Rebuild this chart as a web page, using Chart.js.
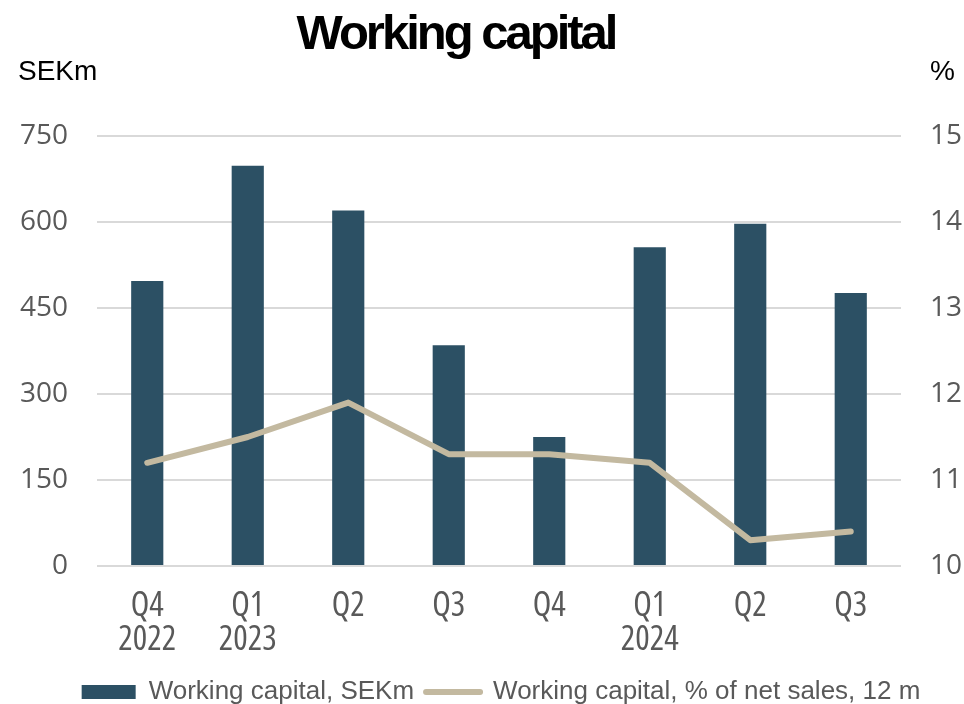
<!DOCTYPE html>
<html>
<head>
<meta charset="utf-8">
<title>Working capital</title>
<script src="https://cdn.jsdelivr.net/npm/chart.js@4.4.1/dist/chart.umd.min.js"></script>
<style>
  html, body { margin: 0; padding: 0; background: #fff; }
  #wrap { width: 964px; height: 704px; }
</style>
</head>
<body>
<div id="wrap"><canvas id="wcChart" width="964" height="704"></canvas></div>
<script>
const quarters = [['Q4', '2022'], ['Q1', '2023'], 'Q2', 'Q3', 'Q4', ['Q1', '2024'], 'Q2', 'Q3'];
const workingCapital = [497, 698, 620, 385, 225, 556, 597, 476];
const wcPctOfSales = [11.2, 11.5, 11.9, 11.3, 11.3, 11.2, 10.3, 10.4];
const sekTicks = [0, 150, 300, 450, 600, 750];
const pctTicks = [10, 11, 12, 13, 14, 15];

const BAR_COLOR = '#2c5064';
const LINE_COLOR = '#c3b9a0';
const TEXT_GREY = '#595959';
const LEGEND_SHIFT = { x: 19, y: 11 };

// title and the two unit labels above the axes
const headerText = {
  id: 'headerText',
  afterDraw(chart) {
    const { ctx } = chart;
    ctx.save();
    ctx.fillStyle = '#000';
    ctx.textBaseline = 'alphabetic';
    ctx.font = 'bold 49px "Liberation Sans"';
    ctx.letterSpacing = '-3px';
    ctx.textAlign = 'center';
    ctx.fillText('Working capital', 456, 49);
    ctx.letterSpacing = '0px';
    ctx.font = '28px "Liberation Sans"';
    ctx.textAlign = 'left';
    ctx.fillText('SEKm', 18, 80);
    ctx.textAlign = 'right';
    ctx.fillText('%', 955, 80);
    ctx.restore();
  }
};

// nudge the legend box a bit lower and to the right
const legendNudge = {
  id: 'legendNudge',
  afterLayout(chart) {
    const lg = chart.legend;
    if (!lg) return;
    lg.left += LEGEND_SHIFT.x;
    lg.right += LEGEND_SHIFT.x;
    lg.top += LEGEND_SHIFT.y;
    lg.bottom += LEGEND_SHIFT.y;
  }
};

const ctx = document.getElementById('wcChart').getContext('2d');

new Chart(ctx, {
  type: 'bar',
  data: {
    labels: quarters,
    datasets: [{
      label: 'Working capital, SEKm',
      data: workingCapital,
      backgroundColor: BAR_COLOR,
      borderWidth: 0,
      barPercentage: 0.32,
      categoryPercentage: 1,
      pointStyle: 'rect',
      yAxisID: 'ySek',
      order: 2
    }, {
      type: 'line',
      label: 'Working capital, % of net sales, 12 m',
      data: wcPctOfSales,
      borderColor: LINE_COLOR,
      backgroundColor: LINE_COLOR,
      borderWidth: 6,
      borderCapStyle: 'round',
      borderJoinStyle: 'round',
      pointRadius: 0,
      pointStyle: 'line',
      tension: 0,
      yAxisID: 'yPct',
      order: 1
    }]
  },
  options: {
    responsive: false,
    animation: false,
    events: [],
    layout: { padding: { top: 136, left: 0, right: 0, bottom: 0 } },
    scales: {
      x: {
        grid: { display: false },
        border: { display: false },
        ticks: {
          color: TEXT_GREY,
          font: { family: '"Open Sans"', size: 34, weight: 'normal semi-condensed', lineHeight: 1.0 },
          padding: 15,
          maxRotation: 0
        },
        afterFit: s => { s.height = 90; }
      },
      ySek: {
        position: 'left',
        min: 0,
        max: 750,
        afterBuildTicks: s => { s.ticks = sekTicks.map(v => ({ value: v })); },
        grid: { color: '#d9d9d9', lineWidth: 2, drawTicks: false },
        border: { display: false },
        ticks: {
          color: TEXT_GREY,
          font: { family: '"Open Sans"', size: 28 },
          padding: 29
        },
        afterFit: s => { s.width = 97; }
      },
      yPct: {
        position: 'right',
        min: 10,
        max: 15,
        afterBuildTicks: s => { s.ticks = pctTicks.map(v => ({ value: v })); },
        grid: { display: false, drawTicks: false },
        border: { display: false },
        ticks: {
          color: TEXT_GREY,
          font: { family: '"Open Sans"', size: 28 },
          padding: 29
        },
        afterFit: s => { s.width = 63; }
      }
    },
    plugins: {
      title: { display: false },
      tooltip: { enabled: false },
      legend: {
        position: 'bottom',
        labels: {
          color: TEXT_GREY,
          font: { family: '"Liberation Sans"', size: 26 },
          usePointStyle: true,
          pointStyleWidth: 54,
          boxHeight: 14,
          padding: 12,
          sort: (a, b) => a.datasetIndex - b.datasetIndex,
          generateLabels(chart) {
            const items = Chart.defaults.plugins.legend.labels.generateLabels(chart);
            items.forEach(item => {
              if (item.datasetIndex === 1) {
                item.strokeStyle = LINE_COLOR;
                item.lineWidth = 6;
                item.lineCap = 'round';
              } else {
                item.fillStyle = BAR_COLOR;
                item.lineWidth = 0;
              }
            });
            return items;
          }
        }
      }
    }
  },
  plugins: [headerText, legendNudge]
});
</script>
</body>
</html>
